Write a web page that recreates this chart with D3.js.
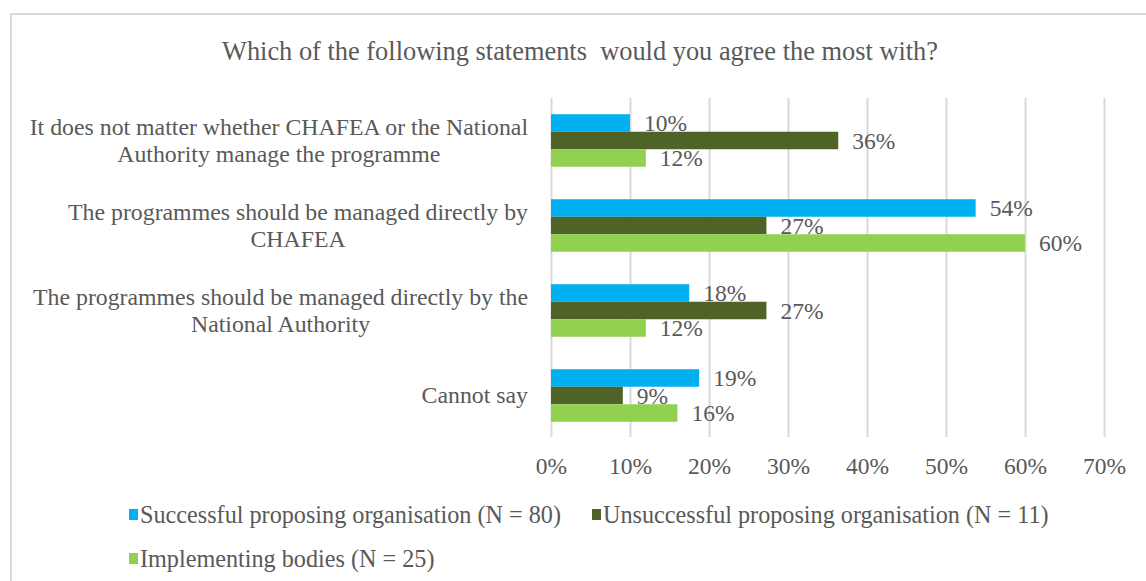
<!DOCTYPE html>
<html>
<head>
<meta charset="utf-8">
<script src="https://cdn.jsdelivr.net/npm/d3@7"></script>
<style>
  body { margin: 0; background: #fff; }
  text { font-family: "Liberation Serif", "Times New Roman", serif; fill: #595959; }
</style>
</head>
<body>
<div id="root"></div>
<script>
//DATA
const categories = [
  ["It does not matter whether CHAFEA or the National", "Authority manage the programme"],
  ["The programmes should be managed directly by", "CHAFEA"],
  ["The programmes should be managed directly by the", "National Authority"],
  ["Cannot say"]
];
const seriesNames = [
  "Successful proposing organisation (N = 80)",
  "Unsuccessful proposing organisation (N = 11)",
  "Implementing bodies (N = 25)"
];
const successful = [10, 53.75, 17.5, 18.75];
const unsuccessful = [36.36, 27.27, 27.27, 9.09];
const implementing = [12, 60, 12, 16];
const tickValues = [0, 10, 20, 30, 40, 50, 60, 70];
const colors = ["#00B0F0", "#4F6228", "#92D050"];
const title = "Which of the following statements  would you agree the most with?";

//DIMENSIONS
const width = 1146, height = 581;
const plot = {left: 551, right: 1104, top: 98, bottom: 438};
const fontSize = 23.8;
const serif = '"Liberation Serif", "Times New Roman", serif';

const svg = d3.select('#root')
  .append('svg')
  .attr('width', width)
  .attr('height', height);

//CHART BORDER
svg.append('rect')
  .attr('x', 11).attr('y', 14)
  .attr('width', 1300).attr('height', 700)
  .attr('fill', 'none')
  .attr('stroke', '#d9d9d9')
  .attr('stroke-width', 2);

//TITLE
svg.append('text')
  .attr('x', 580).attr('y', 60)
  .attr('text-anchor', 'middle')
  .style('white-space', 'pre')
  .style('font-family', serif)
  .style('font-size', '26.4px')
  .text(title);

//SCALES
const x = d3.scaleLinear().domain([0, 70]).range([plot.left, plot.right]);
const y = d3.scaleBand()
  .domain(d3.range(categories.length))
  .range([plot.top, plot.bottom])
  .paddingInner(0.382)
  .paddingOuter(0.191);
const ySeries = d3.scaleBand()
  .domain(d3.range(seriesNames.length))
  .range([0, y.bandwidth()]);

//GRID + X AXIS
const xAxis = svg.append('g')
  .attr('transform', `translate(0, ${plot.bottom - 1})`)
  .call(d3.axisBottom(x)
    .tickValues(tickValues)
    .tickFormat(d => d + '%')
    .tickSize(-(plot.bottom - 1 - plot.top))
    .tickPadding(20));
xAxis.select('.domain').remove();
xAxis.selectAll('line').attr('stroke', '#d9d9d9').attr('stroke-width', 2);
xAxis.selectAll('text')
  .attr('fill', '#595959')
  .style('font-size', '23.5px')
  .style('font-family', serif);

//BARS
const allSeries = [successful, unsuccessful, implementing];
allSeries.forEach((values, s) => {
  const g = svg.append('g');
  g.selectAll('rect')
    .data(values)
    .join('rect')
    .attr('x', x(0))
    .attr('y', (d, i) => y(i) + ySeries(s))
    .attr('width', d => x(d) - x(0))
    .attr('height', ySeries.bandwidth())
    .attr('fill', colors[s]);
  g.selectAll('text')
    .data(values)
    .join('text')
    .attr('x', d => x(d) + 14)
    .attr('y', (d, i) => y(i) + ySeries(s) + ySeries.bandwidth() / 2)
    .attr('dy', '0.35em')
    .style('font-family', serif)
    .style('font-size', '23.5px')
    .text(d => Math.round(d) + '%');
});

//CATEGORY LABELS
const labelRight = 528, lineH = 27;
categories.forEach((lines, i) => {
  const g = svg.append('g');
  const cy = y(i) + y.bandwidth() / 2;
  const texts = g.selectAll('text')
    .data(lines)
    .join('text')
    .attr('text-anchor', 'middle')
    .attr('y', (d, j) => cy + (j - (lines.length - 1) / 2) * lineH + 7.5)
    .style('font-family', serif)
    .style('font-size', fontSize + 'px')
    .text(d => d);
  const maxW = d3.max(texts.nodes(), n => n.getComputedTextLength());
  texts.attr('x', labelRight - maxW / 2);
});

//LEGEND
const legendPos = [[129, 523], [592, 523], [129, 567]];
seriesNames.forEach((name, s) => {
  const [lx, ly] = legendPos[s];
  svg.append('rect')
    .attr('x', lx).attr('y', ly - 14)
    .attr('width', 9).attr('height', 11)
    .attr('fill', colors[s]);
  svg.append('text')
    .attr('x', lx + 11).attr('y', ly)
    .style('font-family', serif)
    .style('font-size', '24.2px')
    .text(name);
});
</script>
</body>
</html>
